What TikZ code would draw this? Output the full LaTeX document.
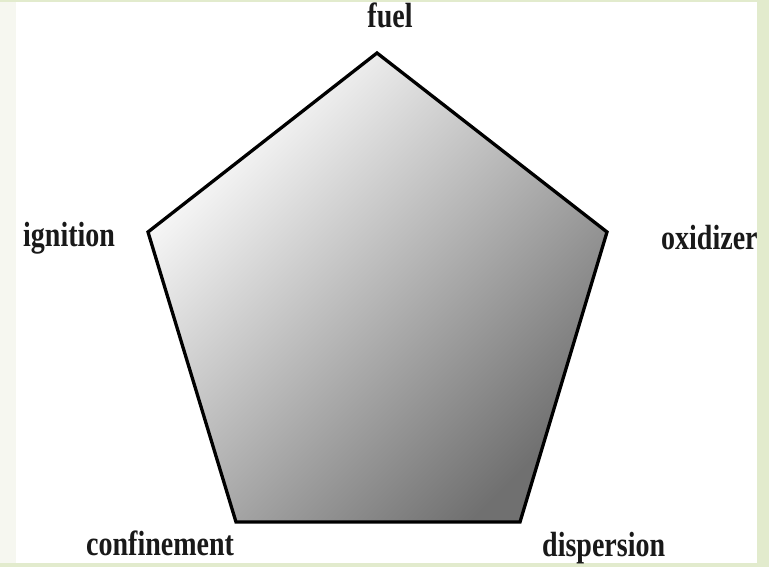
\documentclass[tikz,border=0pt]{standalone}
\usepackage{fontspec}
\setmainfont{Liberation Serif}
\definecolor{outergreen}{HTML}{E2EBCD}
\definecolor{leftstrip}{HTML}{F6F7F0}
\tikzset{
  lbl/.style={inner sep=0pt, font=\fontsize{35}{35}\selectfont\bfseries, text=black!90},
  penta/.style={draw=black, line width=3.3pt, line join=miter,
    top color=white, bottom color=black!56, shading angle=45}
}
\newcommand{\cond}[1]{\scalebox{0.8}[1]{#1}}
\begin{document}
\begin{tikzpicture}[x=1pt,y=-1pt]
  \useasboundingbox (0,0) rectangle (769,567);
  \fill[outergreen] (0,0) rectangle (769,567);
  \fill[leftstrip] (0,2) rectangle (16,563);
  \fill[white] (16,2) rectangle (757,563);
  % pentagon vertices
  \coordinate (vtop) at (377,53);
  \coordinate (vright) at (607,232);
  \coordinate (vbr) at (520,522);
  \coordinate (vbl) at (236,522);
  \coordinate (vleft) at (148,232);
  \shade[penta] (vtop) -- (vright) -- (vbr) -- (vbl) -- (vleft) -- cycle;
  % labels
  \node[lbl, anchor=base] (fuel) at (390,28) {\cond{fuel}};
  \node[lbl, anchor=base west] (ignition) at (23,247) {\cond{ignition}};
  \node[lbl, anchor=base west] (oxidizer) at (661,249) {\cond{oxidizer}};
  \node[lbl, anchor=base west] (confinement) at (86,555) {\cond{confinement}};
  \node[lbl, anchor=base west] (dispersion) at (542,556) {\cond{dispersion}};
\end{tikzpicture}
\end{document}
